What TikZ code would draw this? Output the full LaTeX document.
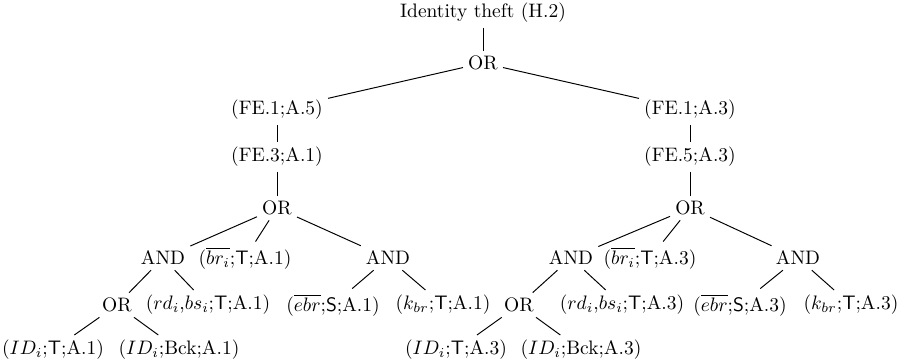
\documentclass[tikz,border=0pt]{standalone}
\begin{document}
\begin{tikzpicture}[x=0.513pt,y=-0.513pt,
  lbl/.style={inner sep=2.5pt},
  edge/.style={draw=black,line width=0.5pt}]
\useasboundingbox (0,0) rectangle (913,364);
% root and first split
\node[lbl] (top) at (483,13) {Identity theft (H.2)};
\node[lbl] (or1) at (483,63) {OR};
\node[lbl] (fe15) at (277,110) {(FE.1;A.5)};
\node[lbl] (fe31) at (277,157) {(FE.3;A.1)};
\node[lbl] (fe13) at (690,110) {(FE.1;A.3)};
\node[lbl] (fe53) at (690,157) {(FE.5;A.3)};
% left branch
\node[lbl] (orL) at (277,208) {OR};
\node[lbl] (andLa) at (163,258) {AND};
\node[lbl] (brL) at (245,258) {($\overline{br_i}$;\textsf{T};A.1)};
\node[lbl] (andLb) at (388,258) {AND};
\node[lbl] (orLL) at (117,305) {OR};
\node[lbl] (rdL) at (208,305) {($rd_i$,$bs_i$;\textsf{T};A.1)};
\node[lbl] (ebrL) at (333,305) {($\overline{ebr}$;\textsf{S};A.1)};
\node[lbl] (kbrL) at (443,305) {($k_{br}$;\textsf{T};A.1)};
\node[lbl] (idTL) at (53,350) {($ID_i$;\textsf{T};A.1)};
\node[lbl] (idBL) at (179,350) {($ID_i$;Bck;A.1)};
% right branch
\node[lbl] (orR) at (690,208) {OR};
\node[lbl] (andRa) at (571,258) {AND};
\node[lbl] (brR) at (650,258) {($\overline{br_i}$;\textsf{T};A.3)};
\node[lbl] (andRb) at (798,258) {AND};
\node[lbl] (orRL) at (519,305) {OR};
\node[lbl] (rdR) at (622,305) {($rd_i$,$bs_i$;\textsf{T};A.3)};
\node[lbl] (ebrR) at (740,305) {($\overline{ebr}$;\textsf{S};A.3)};
\node[lbl] (kbrR) at (851,305) {($k_{br}$;\textsf{T};A.3)};
\node[lbl] (idTR) at (456,350) {($ID_i$;\textsf{T};A.3)};
\node[lbl] (idBR) at (581,350) {($ID_i$;Bck;A.3)};
% connectors
\path[edge] (top) -- (or1);
\path[edge] (or1) -- (fe15);
\path[edge] (or1) -- (fe13);
\path[edge] (fe15) -- (fe31);
\path[edge] (fe31) -- (orL);
\path[edge] (fe13) -- (fe53);
\path[edge] (fe53) -- (orR);
\path[edge] (orL) -- (andLa);
\path[edge] (orL) -- (brL);
\path[edge] (orL) -- (andLb);
\path[edge] (andLa) -- (orLL);
\path[edge] (andLa) -- (rdL);
\path[edge] (andLb) -- (ebrL);
\path[edge] (andLb) -- (kbrL);
\path[edge] (orLL) -- (idTL);
\path[edge] (orLL) -- (idBL);
\path[edge] (orR) -- (andRa);
\path[edge] (orR) -- (brR);
\path[edge] (orR) -- (andRb);
\path[edge] (andRa) -- (orRL);
\path[edge] (andRa) -- (rdR);
\path[edge] (andRb) -- (ebrR);
\path[edge] (andRb) -- (kbrR);
\path[edge] (orRL) -- (idTR);
\path[edge] (orRL) -- (idBR);
\end{tikzpicture}
\end{document}
